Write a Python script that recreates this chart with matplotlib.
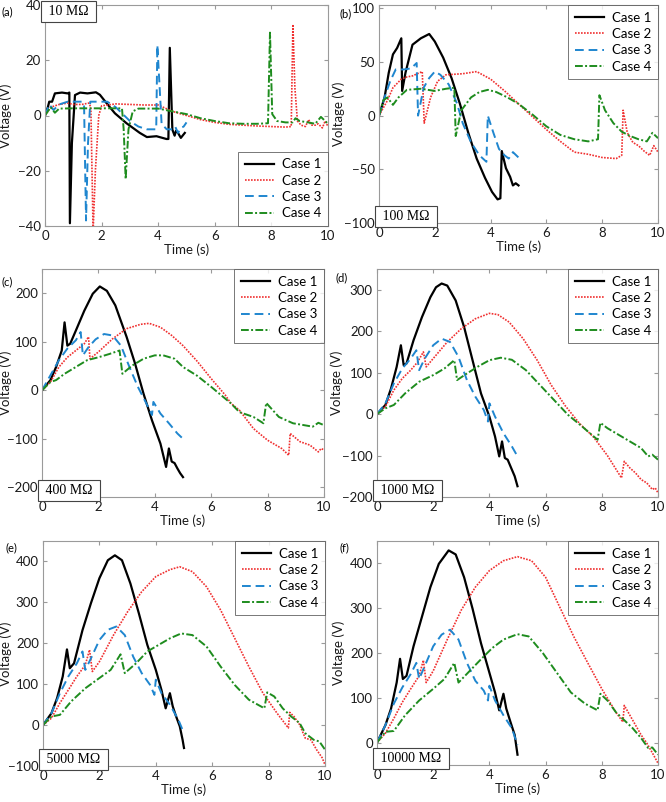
#!/usr/bin/env python3
"""
Voltage vs time for four cases at six load resistances (a)-(f)
"""

import matplotlib
matplotlib.use('Agg')
import matplotlib.pyplot as plt

# ---- data (time in s, voltage in V) ----
# (a) 10 MOhm
A1_T = [0, 0.1, 0.15, 0.25, 0.35, 0.6, 0.8, 0.86, 0.88, 0.95, 1.06, 1.24, 1.5, 1.8, 1.94, 2.18, 2.47, 2.88, 3.35, 3.6, 3.94, 4.29, 4.36, 4.41, 4.5, 4.58, 4.63, 4.7, 4.8, 4.94]
A1_V = [0, 3, 5, 5, 8, 8.3, 8, 8.3, -39, -10, 7.4, 8.3, 8, 8.4, 7.5, 4.4, 0.8, -2.8, -6.3, -7.8, -7.5, -8.5, -8.5, 24.5, -5.1, -7.3, -5.5, -6.3, -8.1, -6.3]
A2_T = [0, 0.2, 0.5, 0.8, 1.0, 1.3, 1.55, 1.62, 1.7, 1.78, 1.9, 2.0, 2.5, 3.0, 3.5, 4.0, 4.5, 5.0, 5.5, 6.0, 6.5, 7.0, 7.5, 8.0, 8.5, 8.7, 8.76, 8.83, 8.92, 9.05, 9.2, 9.32, 9.4, 9.55, 9.65, 9.8, 9.9, 10]
A2_V = [0, 3, 4, 4.5, 4, 4, 4.5, 3, -42, -20, 0, 3.5, 4.2, 4, 3.8, 3.8, 1.5, 0, -1.5, -2.5, -3.2, -3.5, -3.8, -4, -4.2, -4, 33, 10, -2, -3.5, -4, -1.5, -3.5, -3.5, -3, -4.5, -2, -4]
A3_T = [0, 0.15, 0.3, 0.5, 0.8, 1.1, 1.3, 1.38, 1.45, 1.52, 1.6, 1.8, 2.2, 2.5, 2.8, 3.0, 3.3, 3.6, 3.93, 3.97, 4.12, 4.3, 4.5, 4.6, 4.7, 4.8, 4.9, 5.0]
A3_V = [0, 4, 2, 4, 5, 5, 5, 4, -38, -10, 5, 5, 5, 3, 0, -2, -4, -5, -5, 25.5, -3, -5, -5, -4, -6.3, -4.5, -4, -2.5]
A4_T = [0, 0.2, 0.35, 0.5, 1.0, 1.5, 2.0, 2.5, 2.72, 2.78, 2.85, 2.95, 3.1, 3.3, 3.6, 4.0, 4.5, 5.0, 5.5, 6.0, 6.5, 7.0, 7.5, 7.88, 7.95, 8.03, 8.2, 8.5, 8.75, 8.85, 9.0, 9.3, 9.55, 9.75, 9.85, 10]
A4_V = [0, 3, 1, 2.5, 2.6, 2.6, 2.6, 2.6, 2.6, -5, -23, -5, 1.5, 2.5, 2.5, 2.5, 1.5, 0.5, -1, -2, -2.8, -3, -3, -2.8, 30, 0.5, -2, -2.5, -2.5, -1, -2, -2.5, -3, -0.5, -1.5, -3]

# (b) 100 MOhm
B1_T = [0, 0.2, 0.35, 0.5, 0.65, 0.8, 0.83, 0.95, 1.2, 1.5, 1.8, 2.0, 2.3, 2.6, 2.9, 3.2, 3.5, 3.8, 4.05, 4.25, 4.35, 4.4, 4.55, 4.7, 4.8, 4.9, 5.0]
B1_V = [0, 17, 40, 57, 63, 72, 23, 40, 66, 72, 76, 69, 54, 35, 11, -16, -40, -58, -71, -78, -77, -33, -49, -57, -65, -63, -65]
B2_T = [0, 0.3, 0.5, 0.8, 1.0, 1.2, 1.55, 1.62, 1.85, 2.1, 2.4, 3.0, 3.5, 4.0, 4.5, 5.0, 5.5, 6.0, 6.5, 7.0, 7.5, 8.0, 8.5, 8.7, 8.75, 8.9, 9.1, 9.3, 9.5, 9.7, 9.85, 10]
B2_V = [0, 14, 26, 34, 36, 37, 41, -7, 17, 32, 38, 39, 41, 34, 23, 11, -1, -13, -24, -34, -36, -39, -40, -37, 5, -16, -25, -28, -33, -37, -28, -34]
B3_T = [0, 0.2, 0.4, 0.6, 0.9, 1.15, 1.35, 1.4, 1.6, 1.8, 2.0, 2.2, 2.5, 2.8, 3.0, 3.3, 3.6, 3.85, 3.9, 4.1, 4.3, 4.5, 4.65, 4.8, 5.0]
B3_V = [0, 17, 32, 43, 43, 44, 49, 0, 26, 35, 41, 38, 29, 11, -7, -25, -37, -43, 0, -16, -31, -37, -40, -34, -39]
B4_T = [0, 0.15, 0.3, 0.5, 0.7, 1.0, 1.5, 2.0, 2.4, 2.7, 2.75, 2.95, 3.3, 3.6, 3.9, 4.2, 4.6, 5.0, 5.5, 6.0, 6.5, 7.0, 7.5, 7.85, 7.9, 8.1, 8.4, 8.7, 9.0, 9.3, 9.6, 9.8, 10]
B4_V = [0, 14, 17, 10, 17, 24, 25, 23, 25, 26, -19, 5, 17, 22, 24, 22, 17, 11, 1, -10, -18, -22, -24, -22, 19, 5, -7, -15, -19, -22, -24, -16, -21]

# (c) 400 MOhm
C1_T = [0, 0.3, 0.5, 0.7, 0.8, 0.9, 1.0, 1.2, 1.5, 1.8, 2.05, 2.3, 2.6, 3.0, 3.3, 3.6, 3.9, 4.2, 4.4, 4.5, 4.6, 4.7, 4.8, 4.9, 5.0]
C1_V = [0, 21, 48, 82, 140, 92, 96, 123, 164, 199, 214, 205, 175, 110, 55, -7, -62, -110, -158, -120, -147, -150, -161, -171, -179]
C2_T = [0, 0.3, 0.6, 0.9, 1.2, 1.5, 1.65, 1.7, 2.0, 2.5, 3.0, 3.5, 3.8, 4.2, 4.6, 5.0, 5.5, 6.0, 6.5, 6.7, 7.0, 7.5, 8.0, 8.5, 8.75, 8.8, 9.15, 9.5, 9.8, 9.9, 10]
C2_V = [0, 17, 48, 68, 82, 96, 110, 65, 79, 106, 127, 136, 138, 130, 113, 92, 60, 24, -10, -27, -41, -79, -103, -120, -134, -89, -106, -113, -127, -120, -123]
C3_T = [0, 0.3, 0.6, 0.9, 1.2, 1.37, 1.45, 1.65, 1.9, 2.2, 2.5, 2.8, 3.1, 3.4, 3.7, 3.9, 3.95, 4.2, 4.5, 4.8, 5.0]
C3_V = [0, 31, 62, 86, 103, 120, 72, 89, 105, 116, 113, 92, 48, 7, -27, -51, -24, -48, -68, -89, -100]
C4_T = [0, 0.3, 0.5, 0.8, 1.2, 1.6, 2.0, 2.4, 2.75, 2.85, 3.2, 3.6, 4.0, 4.3, 4.7, 5.0, 5.5, 6.0, 6.7, 7.0, 7.5, 7.85, 7.95, 8.4, 8.9, 9.3, 9.6, 9.8, 10]
C4_V = [0, 17, 21, 34, 48, 62, 68, 75, 82, 34, 51, 65, 72, 72, 65, 48, 30, 7, -27, -45, -55, -68, -26, -55, -68, -72, -75, -67, -72]

# (d) 1000 MOhm
D1_T = [0, 0.3, 0.5, 0.7, 0.85, 0.95, 1.05, 1.3, 1.6, 1.9, 2.1, 2.3, 2.5, 2.8, 3.1, 3.4, 3.7, 4.0, 4.2, 4.35, 4.45, 4.55, 4.65, 4.8, 4.9, 5.0]
D1_V = [0, 22, 62, 114, 166, 118, 122, 178, 234, 282, 306, 315, 310, 274, 210, 130, 50, -6, -54, -102, -66, -106, -110, -134, -150, -174]
D2_T = [0, 0.3, 0.6, 0.9, 1.2, 1.45, 1.65, 1.75, 2.0, 2.5, 3.0, 3.5, 4.0, 4.3, 4.7, 5.2, 5.7, 6.2, 6.7, 7.2, 7.7, 8.2, 8.7, 8.8, 9.0, 9.2, 9.4, 9.6, 9.8, 9.9, 10]
D2_V = [0, 18, 58, 86, 106, 126, 150, 114, 134, 174, 206, 230, 243, 240, 222, 182, 130, 70, 20, -22, -55, -100, -154, -114, -130, -142, -158, -166, -182, -178, -190]
D3_T = [0, 0.3, 0.6, 0.9, 1.2, 1.4, 1.5, 1.7, 2.0, 2.3, 2.6, 2.9, 3.2, 3.5, 3.8, 3.95, 4.0, 4.2, 4.5, 4.8, 5.0]
D3_V = [0, 26, 74, 110, 134, 154, 106, 134, 166, 182, 174, 138, 82, 42, 10, -18, 26, -6, -46, -78, -102]
D4_T = [0, 0.3, 0.6, 1.0, 1.5, 2.0, 2.4, 2.75, 2.85, 3.2, 3.6, 4.0, 4.4, 4.8, 5.3, 5.8, 6.3, 6.8, 7.3, 7.85, 7.95, 8.2, 8.6, 9.0, 9.4, 9.65, 9.8, 10]
D4_V = [0, 14, 22, 50, 78, 94, 110, 130, 82, 98, 115, 130, 136, 131, 106, 70, 34, -2, -30, -62, -21, -34, -50, -66, -82, -102, -98, -110]

# (e) 5000 MOhm
E1_T = [0, 0.3, 0.5, 0.7, 0.85, 0.95, 1.1, 1.4, 1.7, 2.0, 2.3, 2.55, 2.8, 3.1, 3.4, 3.7, 4.0, 4.2, 4.35, 4.5, 4.6, 4.7, 4.85, 4.95, 5.0]
E1_V = [0, 29, 66, 119, 185, 139, 151, 232, 298, 359, 403, 415, 403, 346, 273, 196, 135, 86, 41, 78, 46, 25, -3, -36, -56]
E2_T = [0, 0.3, 0.6, 0.9, 1.2, 1.5, 1.65, 1.75, 2.0, 2.5, 3.0, 3.5, 4.0, 4.5, 4.85, 5.3, 5.8, 6.3, 6.8, 7.3, 7.8, 8.3, 8.7, 8.75, 8.9, 9.1, 9.3, 9.5, 9.7, 9.9, 10]
E2_V = [0, 17, 54, 86, 119, 147, 184, 131, 155, 220, 277, 326, 363, 380, 387, 375, 338, 281, 212, 143, 78, 29, -7, 31, 21, 1, -32, -36, -60, -80, -97]
E3_T = [0, 0.3, 0.6, 0.9, 1.2, 1.4, 1.5, 1.7, 2.0, 2.3, 2.6, 2.9, 3.2, 3.5, 3.8, 3.95, 4.0, 4.2, 4.5, 4.8, 5.0]
E3_V = [0, 29, 78, 119, 151, 180, 135, 163, 208, 233, 241, 220, 167, 127, 98, 74, 111, 78, 50, 13, -20]
E4_T = [0, 0.3, 0.6, 1.0, 1.5, 2.0, 2.4, 2.75, 2.9, 3.3, 3.7, 4.1, 4.5, 4.9, 5.3, 5.8, 6.3, 6.8, 7.3, 7.85, 7.95, 8.2, 8.5, 8.8, 9.1, 9.3, 9.6, 9.8, 10]
E4_V = [0, 21, 25, 58, 90, 115, 135, 173, 127, 151, 180, 196, 212, 224, 220, 192, 143, 98, 62, 41, 80, 70, 41, 21, 5, -20, -36, -40, -60]

# (f) 10000 MOhm
F1_T = [0, 0.3, 0.5, 0.7, 0.82, 0.92, 1.05, 1.3, 1.6, 1.9, 2.2, 2.55, 2.8, 3.1, 3.4, 3.7, 4.0, 4.2, 4.35, 4.5, 4.6, 4.75, 4.9, 5.0]
F1_V = [0, 39, 76, 134, 187, 142, 149, 215, 281, 347, 399, 429, 420, 369, 299, 222, 156, 112, 72, 109, 76, 46, 17, -27]
F2_T = [0, 0.3, 0.6, 0.9, 1.2, 1.5, 1.65, 1.75, 2.0, 2.5, 3.0, 3.5, 4.0, 4.5, 5.0, 5.5, 6.0, 6.5, 7.0, 7.5, 8.0, 8.5, 8.75, 8.8, 9.0, 9.2, 9.4, 9.6, 9.8, 10]
F2_V = [0, 21, 54, 90, 120, 149, 184, 134, 160, 230, 296, 347, 384, 406, 415, 406, 369, 303, 237, 178, 120, 68, 46, 83, 61, 39, 17, -1, -23, -46]
F3_T = [0, 0.3, 0.6, 0.9, 1.2, 1.4, 1.5, 1.7, 2.0, 2.3, 2.6, 2.9, 3.2, 3.5, 3.8, 3.95, 4.0, 4.2, 4.5, 4.8, 5.0]
F3_V = [0, 39, 87, 123, 153, 178, 142, 171, 215, 241, 252, 230, 178, 138, 116, 94, 127, 94, 61, 32, -5]
F4_T = [0, 0.3, 0.6, 1.0, 1.5, 2.0, 2.4, 2.75, 2.9, 3.3, 3.7, 4.1, 4.5, 5.0, 5.4, 5.9, 6.4, 6.9, 7.4, 7.85, 7.95, 8.2, 8.5, 8.8, 9.1, 9.4, 9.65, 9.8, 10]
F4_V = [0, 24, 26, 61, 94, 120, 142, 178, 134, 160, 186, 211, 230, 242, 237, 200, 156, 112, 87, 72, 109, 94, 68, 50, 32, 10, -12, -11, -27]

CASE_LABELS = ['Case 1', 'Case 2', 'Case 3', 'Case 4']
PANEL_LETTERS = ['(a)', '(b)', '(c)', '(d)', '(e)', '(f)']
RESISTANCES = ['10 M\u03a9', '100 M\u03a9', '400 M\u03a9', '1000 M\u03a9', '5000 M\u03a9', '10000 M\u03a9']
Y_TICKS = [[-40, -20, 0, 20, 40], [-100, -50, 0, 50, 100], [-200, -100, 0, 100, 200],
           [-200, -100, 0, 100, 200, 300], [-100, 0, 100, 200, 300, 400], [0, 100, 200, 300, 400]]
Y_LIMS = [(-40, 40), (-100, 103), (-220, 250), (-200, 350), (-100, 450), (-50, 450)]
X_TICKS = [0, 2, 4, 6, 8, 10]

# ---- styling ----
W, H = 666, 802
plt.rcParams['font.family'] = ['Lato', 'DejaVu Sans']
FS = 9.5

styles = [
    dict(color='black', ls='-', lw=1.6),
    dict(color='#f03030', ls=(0, (1, 0.8)), lw=1.2),
    dict(color='#1f86cf', ls=(0, (4.5, 2.5)), lw=1.4),
    dict(color='#1e8c1e', ls=(0, (4, 1.2, 1, 1.2)), lw=1.4),
]

# pixel boxes (left, top, right, bottom)
boxes = [(45, 5, 328, 226), (379, 5, 658, 223),
         (42, 269, 324, 497), (377, 269, 658, 497),
         (43, 541, 325, 766), (377, 541, 658, 765)]
ylabel_x = [12, 345, 12, 343, 12, 345]
letter_pos = [(2, 6), (340, 8), (2, 276), (335, 272), (5, 542), (340, 542)]
legend_loc = ['lower right', 'upper right', 'upper right', 'upper right', 'upper right', 'upper right']
tag_loc = ['upper left', 'lower left', 'lower left', 'lower left', 'lower left', 'lower left']

panels = [
    [(A1_T, A1_V), (A2_T, A2_V), (A3_T, A3_V), (A4_T, A4_V)],
    [(B1_T, B1_V), (B2_T, B2_V), (B3_T, B3_V), (B4_T, B4_V)],
    [(C1_T, C1_V), (C2_T, C2_V), (C3_T, C3_V), (C4_T, C4_V)],
    [(D1_T, D1_V), (D2_T, D2_V), (D3_T, D3_V), (D4_T, D4_V)],
    [(E1_T, E1_V), (E2_T, E2_V), (E3_T, E3_V), (E4_T, E4_V)],
    [(F1_T, F1_V), (F2_T, F2_V), (F3_T, F3_V), (F4_T, F4_V)],
]

fig = plt.figure(figsize=(W / 100, H / 100), dpi=100)
fig.patch.set_facecolor('white')

for i, curves in enumerate(panels):
    l, t, r, b = boxes[i]
    ax = fig.add_axes([l / W, 1 - b / H, (r - l) / W, (b - t) / H])

    for (tt, vv), st, lab in zip(curves, styles, CASE_LABELS):
        ax.plot(tt, vv, label=lab, **st)

    ax.set_xlim(0, 10)
    ax.set_ylim(*Y_LIMS[i])
    ax.set_xticks(X_TICKS)
    ax.set_yticks(Y_TICKS[i])
    ax.tick_params(direction='in', top=True, right=True, length=3,
                   color='#9a9a9a', labelsize=FS, labelcolor='#1a1a1a', pad=3)
    for sp in ax.spines.values():
        sp.set_color('#9a9a9a')
        sp.set_linewidth(0.8)

    ax.set_xlabel('Time (s)', fontsize=FS, labelpad=1, color='#1a1a1a')
    ax.set_ylabel('Voltage (V)', fontsize=FS, color='#1a1a1a')
    ax.yaxis.set_label_coords((ylabel_x[i] - l) / (r - l), 0.5)

    leg = ax.legend(loc=legend_loc[i], fontsize=FS, frameon=True, fancybox=False,
                    handlelength=2.2, handletextpad=0.6, labelspacing=0.33,
                    borderpad=0.5, borderaxespad=0.0)
    leg.get_frame().set_edgecolor('#555555')
    leg.get_frame().set_linewidth(0.7)

    # resistance tag
    va = 'top' if tag_loc[i] == 'upper left' else 'bottom'
    ypos = 1.0 if va == 'top' else 0.0
    ax.text(0.0, ypos, ' ' + RESISTANCES[i] + ' ', transform=ax.transAxes,
            ha='left', va=va, fontsize=10, family=['Liberation Serif', 'DejaVu Serif'],
            bbox=dict(boxstyle='square,pad=0.3', facecolor='white', edgecolor='#444444', lw=0.8),
            zorder=10)

    lx, ly = letter_pos[i]
    fig.text(lx / W, 1 - ly / H, PANEL_LETTERS[i], ha='left', va='top', fontsize=8)

fig.savefig('out.png', dpi=100, facecolor='white')
